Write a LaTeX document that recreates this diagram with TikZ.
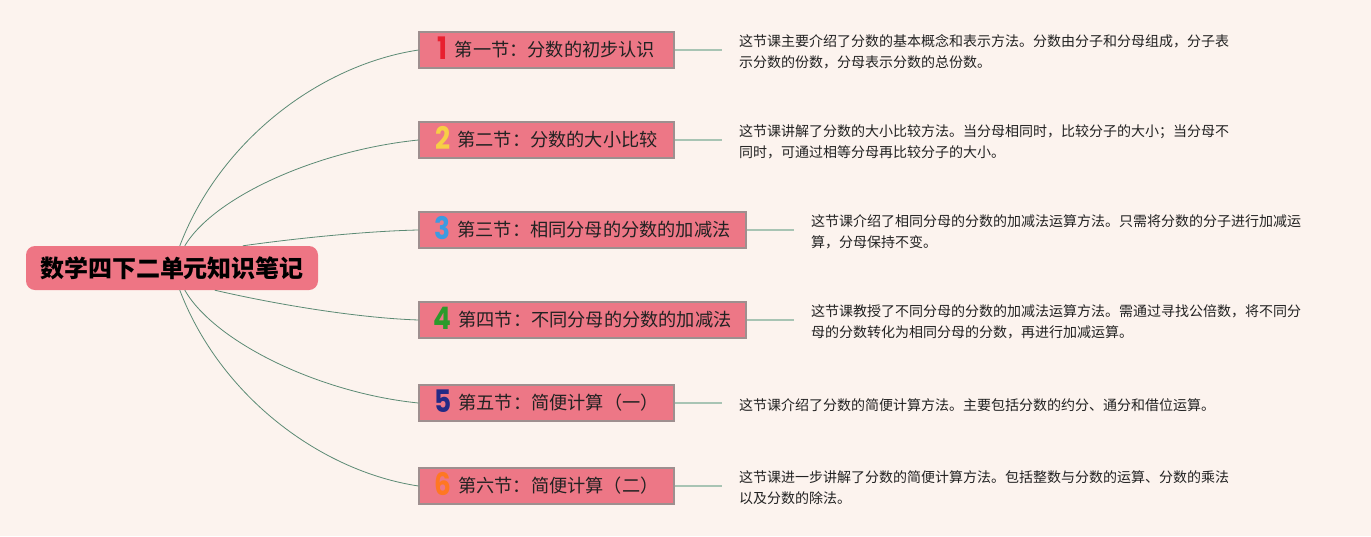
\documentclass[tikz,border=0pt]{standalone}
\usepackage{fontspec}
\setmainfont{Noto Sans CJK SC}
\newfontfamily\numfont[FakeStretch=0.85]{Poppins}
\definecolor{bg}{HTML}{FCF3EE}
\definecolor{boxfill}{HTML}{ED7786}
\definecolor{rootfill}{HTML}{EE7584}
\definecolor{boxline}{HTML}{9E8F8F}
\definecolor{curvecol}{HTML}{5B8A74}
\definecolor{hlinecol}{HTML}{A8C4B4}
\definecolor{txt}{HTML}{222222}
\definecolor{c1}{HTML}{E8202F}
\definecolor{c2}{HTML}{F7CE46}
\definecolor{c3}{HTML}{3D9BE0}
\definecolor{c4}{HTML}{2B9A2B}
\definecolor{c5}{HTML}{222A85}
\definecolor{c6}{HTML}{FF7722}
\newcommand\numtag[2]{\raisebox{-3pt}{\smash{\numfont\bfseries\fontsize{31}{31}\selectfont\color{#1}#2}}\hspace{7pt}}
\begin{document}
\begin{tikzpicture}[x=1pt,y=-1pt,
  rootbox/.style={fill=rootfill, rounded corners=9pt, minimum width=292pt, minimum height=44pt, inner sep=0pt, font=\bfseries\fontsize{24}{26}\selectfont, text=black},
  secbox/.style={draw=boxline, line width=1.1pt, fill=boxfill, minimum height=36pt, inner sep=0pt, font=\fontsize{18.2}{20}\selectfont, text=txt},
  desc/.style={anchor=west, inner xsep=17pt, inner ysep=0pt, align=left, font=\fontsize{14}{21}\selectfont, text=txt},
  curve/.style={draw=curvecol, line width=0.8pt},
  hline/.style={draw=hlinecol, line width=1.3pt}]
\useasboundingbox[fill=bg] (0,0) rectangle (1371,536);
\node[rootbox] (root) at (172,268) {数学四下二单元知识笔记};
\node[secbox, minimum width=255pt] (b1) at (546.5,50) {\numtag{c1}{1}第一节：分数的初步认识};
\node[secbox, minimum width=255pt] (b2) at (546.5,140) {\numtag{c2}{2}第二节：分数的大小比较};
\node[secbox, minimum width=327pt] (b3) at (582.5,230) {\numtag{c3}{3}第三节：相同分母的分数的加减法};
\node[secbox, minimum width=327pt] (b4) at (582.5,320) {\numtag{c4}{4}第四节：不同分母的分数的加减法};
\node[secbox, minimum width=255pt] (b5) at (546.5,403) {\numtag{c5}{5}第五节：简便计算（一）};
\node[secbox, minimum width=255pt] (b6) at (546.5,486) {\numtag{c6}{6}第六节：简便计算（二）};
\node[desc] (d1) at (722,52) {这节课主要介绍了分数的基本概念和表示方法。分数由分子和分母组成，分子表\\示分数的份数，分母表示分数的总份数。};
\node[desc] (d2) at (722,142) {这节课讲解了分数的大小比较方法。当分母相同时，比较分子的大小；当分母不\\同时，可通过相等分母再比较分子的大小。};
\node[desc] (d3) at (794,232) {这节课介绍了相同分母的分数的加减法运算方法。只需将分数的分子进行加减运\\算，分母保持不变。};
\node[desc] (d4) at (794,322) {这节课教授了不同分母的分数的加减法运算方法。需通过寻找公倍数，将不同分\\母的分数转化为相同分母的分数，再进行加减运算。};
\node[desc] (d5) at (722,405) {这节课介绍了分数的简便计算方法。主要包括分数的约分、通分和借位运算。};
\node[desc] (d6) at (722,488) {这节课进一步讲解了分数的简便计算方法。包括整数与分数的运算、分数的乘法\\以及分数的除法。};
\foreach \i in {1,...,6} {\draw[hline] (b\i.east) -- (b\i.east -| d\i.west);}
\path (root.north west) ++(154,0) coordinate (s1);
\path (root.north west) ++(159,0) coordinate (s2);
\path (root.north west) ++(217,0) coordinate (s3);
\path (root.south west) ++(189,0) coordinate (s4);
\path (root.south west) ++(159,0) coordinate (s5);
\path (root.south west) ++(154,0) coordinate (s6);
\draw[curve] (s1) .. controls +(40,-105) and +(-99,15) .. (b1.west);
\draw[curve] (s2) .. controls +(30,-50) and +(-99,10) .. (b2.west);
\draw[curve] (s3) .. controls +(57,-8) and +(-49,1) .. (b3.west);
\draw[curve] (s4) .. controls +(65,15) and +(-59,-2) .. (b4.west);
\draw[curve] (s5) .. controls +(30,52) and +(-99,-10) .. (b5.west);
\draw[curve] (s6) .. controls +(40,105) and +(-99,-15) .. (b6.west);
\end{tikzpicture}
\end{document}
